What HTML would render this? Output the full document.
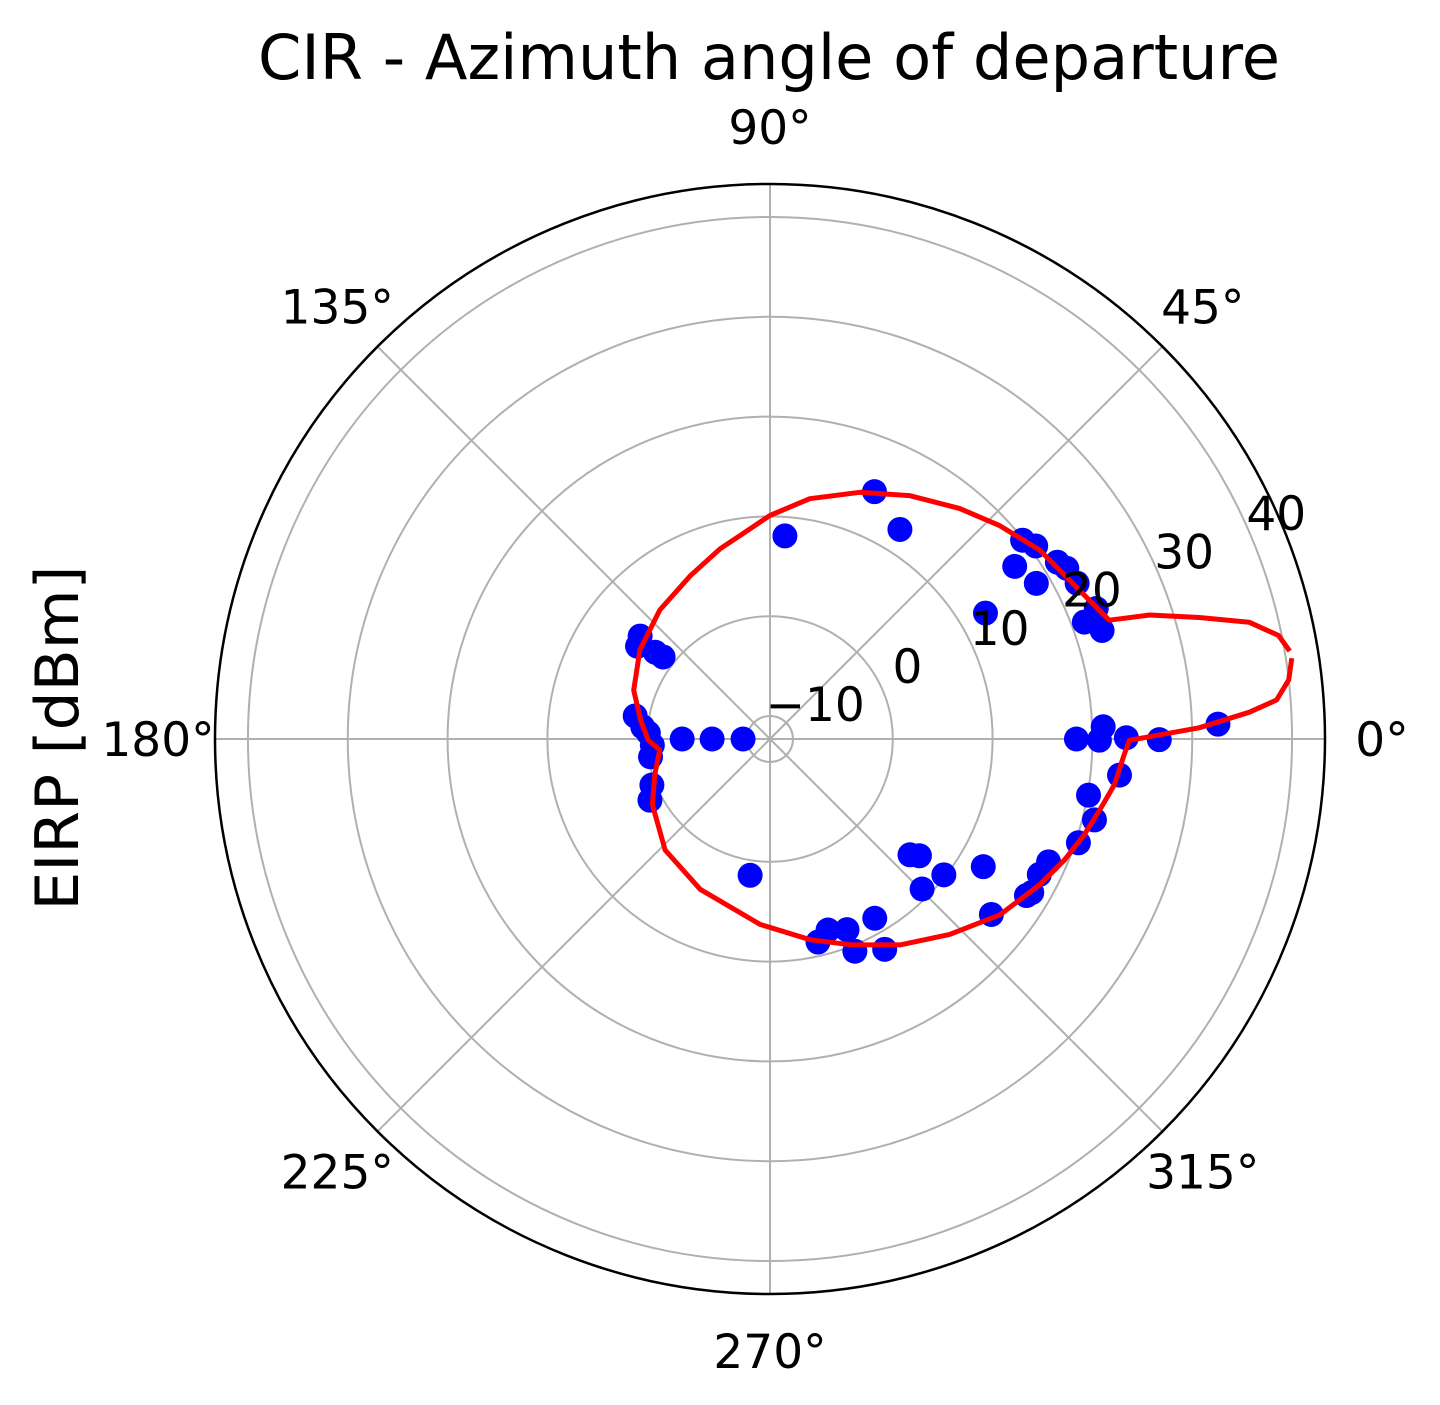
<!DOCTYPE html>
<html><head><meta charset="utf-8"><style>
html,body{margin:0;padding:0;background:#fff;}
svg{display:block;font-family:"DejaVu Sans","Liberation Sans",sans-serif;}
</style></head><body>
<svg id="chart" width="1440" height="1405" viewBox="0 0 1440 1405" xmlns="http://www.w3.org/2000/svg">
<rect width="1440" height="1405" fill="#fff"/>
<text x="769" y="79" font-size="62" text-anchor="middle" textLength="1022" lengthAdjust="spacingAndGlyphs">CIR - Azimuth angle of departure</text>
<text x="0" y="0" font-size="60" text-anchor="middle" textLength="345" lengthAdjust="spacingAndGlyphs" transform="translate(78,738) rotate(-90)">EIRP [dBm]</text>
<g id="grid"></g><g id="marks"></g><g id="labels"></g>
</svg>
<script>
const angleTicks=[0,45,90,135,180,225,270,315];
const radialTicks=[-10,0,10,20,30,40];
const rMin=-12.3, rMax=43.3;
const pointAngles=[67.1,58.2,85.8,38.2,36,35.2,31.6,29.9,30.3,26.9,30.3,21.8,20.4,18.1,1.9,359.9,0.2,2.1,359.8,0,354.1,350,346,341.4,336.2,333.3,329.6,328.6,321.6,329.1,322,315.4,322,320.4,300.3,298.6,291.8,292,286.9,283.3,261.7,180,180,180,188.5,207,201.3,183,177.2,174.6,170.3,142.5,142.9,141.6,145];
const pointValues=[14.6,12.4,8.1,19.9,20.6,17.7,21.5,22,18.6,22.2,12.7,22.9,21.3,22.7,32.6,26.7,23.4,21.1,20.7,18.4,22.9,20.1,21.2,20.3,18.2,17.9,18.1,17.8,16,12.6,9.8,9.1,6.7,5.9,8.5,11.7,10.6,8.3,7.7,8.6,1.5,-9.6,-6.5,-3.5,-0.2,1.2,0.4,-0.5,-0.1,0.5,1.4,1.2,2.1,4.3,3.9];
const patternAngles=[8.8,6.5,4.4,3.2,1.5,359.8,357.4,352.4,347.9,343,337.7,331.6,322.6,312.6,302.3,291.2,281.3,266.9,245.1,226.6,209.2,197.4,185.7,180.5,171.7,160.3,145.6,130.5,116,104.7,98.4,90,80.6,70,60.2,50.6,42.9,35,25.7,19.3,18.1,15.8,13.7,11.5,9.6];
const patternValues=[40.6,40.0,38.6,35.8,30.7,23.7,23.2,22.5,21.5,20.6,19.6,18.4,16.7,14.3,12.1,9.8,8.2,6.3,4.3,3.0,1.2,-0.2,-1.2,-0.1,0.8,2.2,3.5,4.7,5.9,7.4,8.3,10.1,12.1,14.0,15.8,17.6,19.1,20.7,22.1,23.7,27.7,32.4,37.1,39.7,40.5];
const cx=770, cy=739, R=555;
const NS="http://www.w3.org/2000/svg";
function rad(v){return (v-rMin)/(rMax-rMin)*R;}
function xy(a,v){const r=rad(v),t=a*Math.PI/180;return [cx+r*Math.cos(t),cy-r*Math.sin(t)];}
function mk(tag,attrs,parent){const e=document.createElementNS(NS,tag);for(const k in attrs)e.setAttribute(k,attrs[k]);document.getElementById(parent).appendChild(e);return e;}
radialTicks.forEach(v=>{
  const c=mk('circle',{cx:cx,cy:cy,r:rad(v),fill:'none',stroke:'#b0b0b0','stroke-width':2},'grid');
  
  
});
angleTicks.forEach(a=>{
  const p=xy(a,rMax);
  const l=mk('line',{x1:cx,y1:cy,x2:p[0],y2:p[1],stroke:'#b0b0b0','stroke-width':2},'grid');
  
  
  const t=a*Math.PI/180, lr=612;
  const tx=mk('text',{x:cx+lr*Math.cos(t),y:cy-lr*Math.sin(t)+17,'font-size':47,'text-anchor':'middle'},'labels');
  tx.textContent=a+'°';
  
  
});
const outer=mk('circle',{cx:cx,cy:cy,r:R,fill:'none',stroke:'#000','stroke-width':2.5},'grid');


radialTicks.forEach(v=>{
  const p=xy(22.5,v);
  const tx=mk('text',{x:p[0]+24,y:p[1]-26+17,'font-size':47,'text-anchor':'middle'},'labels');
  tx.textContent=v<0?'\u2212'+Math.abs(v):String(v);
  
  
});
pointAngles.forEach((a,i)=>{
  const p=xy(a,pointValues[i]);
  const c=mk('circle',{cx:p[0],cy:p[1],r:12.5,fill:'#0000ff'},'marks');
  
  
});
let d='';
patternAngles.forEach((a,i)=>{const p=xy(a,patternValues[i]);d+=(i?'L':'M')+p[0].toFixed(1)+','+p[1].toFixed(1);});
const path=mk('path',{d:d,fill:'none',stroke:'#ff0000','stroke-width':5,'stroke-linejoin':'round'},'marks');


</script>
</body></html>
